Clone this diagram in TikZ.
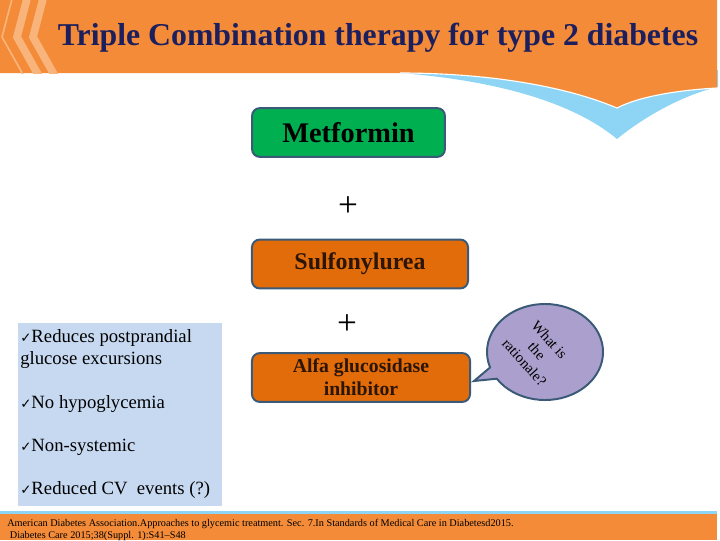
\documentclass[tikz,border=0pt]{standalone}
\usepackage{fontspec}
\setmainfont{Liberation Serif}
\newfontfamily\symfont{DejaVu Sans}
\usetikzlibrary{shapes.callouts}

\definecolor{headorange}{HTML}{F38B38}
\definecolor{chevronorange}{HTML}{F9B47C}
\definecolor{titlenavy}{HTML}{1B1F5E}
\definecolor{swooshblue}{HTML}{8ED5F5}
\definecolor{metgreen}{HTML}{00B050}
\definecolor{drugorange}{HTML}{E36C0A}
\definecolor{boxedge}{HTML}{3A5A78}
\definecolor{drugtext}{HTML}{2B1505}
\definecolor{bubblelilac}{HTML}{ABA0CD}
\definecolor{benefitblue}{HTML}{C6D9F1}

\tikzset{
  drugbox/.style={draw=boxedge, line width=1.4pt, rounded corners=5.5pt,
    minimum height=1.22cm, inner sep=2pt, align=center},
  plussign/.style={font=\fontsize{25}{25}\selectfont},
  benefit/.style={anchor=west, align=left, inner sep=0pt,
    font=\fontsize{13.3}{15.6}\selectfont},
}
\newcommand{\tick}{{\symfont\fontsize{9.5}{9.5}\selectfont ✓}}

\begin{document}
\begin{tikzpicture}[x=0.025cm, y=-0.025cm]
  \useasboundingbox (0,0) rectangle (720,540);
  \clip (0,0) rectangle (720,540);

  % header band
  \fill[swooshblue] (400,73) .. controls (490,80) and (570,100) .. (617,139)
    .. controls (650,112) and (690,93) .. (718,87) -- (718,70) -- cycle;
  \fill[headorange] (0,0) -- (717,0) -- (717,88)
    .. controls (680,90) and (640,96) .. (617,108)
    .. controls (560,84) and (480,73) .. (400,73) -- (0,73) -- cycle;
  \draw[white, line width=0.8pt] (400,73) .. controls (480,73) and (560,84) .. (617,108)
    .. controls (640,96) and (680,90) .. (717,88);
  \begin{scope}
    \clip (0,0) rectangle (120,73);
    \foreach \dx/\w in {0/1.2pt, 15/5.5pt, 31/5.5pt}
      \draw[chevronorange, line width=\w] ({13+\dx},-5) -- ({2+\dx},37) -- ({25+\dx},78);
  \end{scope}
  \node[text=titlenavy, font=\bfseries\fontsize{22.6}{22.6}\selectfont] (title) at (378,38)
    {Triple Combination therapy for type 2 diabetes};

  % drugs
  \node[drugbox, fill=metgreen, minimum width=4.82cm,
    font=\bfseries\fontsize{20.2}{20.2}\selectfont] (metformin) at (348.5,132.5) {Metformin};
  \node[plussign] (plus1) at (348,207) {+};
  \node[drugbox, fill=drugorange, minimum width=5.4cm, text=drugtext,
    font=\bfseries\fontsize{17}{17}\selectfont] (sulfonylurea) at (360,264) {Sulfonylurea};
  \node[plussign] (plus2) at (347,325) {+};
  \node[drugbox, fill=drugorange, minimum width=5.45cm, text=drugtext,
    font=\bfseries\fontsize{14}{16.5}\selectfont] (agi) at (361,377.5)
    {Alfa glucosidase\\inhibitor};

  % speech bubble
  \node[ellipse callout, draw=boxedge, line width=1.4pt, fill=bubblelilac,
    minimum width=2.9cm, minimum height=2.4cm,
    callout absolute pointer={(474,381)}] (bubble) at (545,352) {};
  \node[rotate=-48, align=center, font=\fontsize{10.5}{12}\selectfont] (bubbletext)
    at (537,351) {What is\\the\\rationale?};

  % benefits
  \node[fill=benefitblue, minimum width=5.1cm, minimum height=4.575cm, inner sep=0pt]
    (benefits) at (120,414.5) {};
  \node[benefit] (benefit1) at (20,349) {\tick Reduces postprandial\\glucose excursions};
  \node[benefit] (benefit2) at (20,404) {\tick No hypoglycemia};
  \node[benefit] (benefit3) at (20,447) {\tick Non-systemic};
  \node[benefit] (benefit4) at (20,490) {\tick Reduced CV\ \ events (?)};

  % footer
  \fill[swooshblue] (0,511) rectangle (717,515);
  \fill[headorange] (0,514) rectangle (717,540);
  \node[anchor=north west, align=left, inner sep=0pt,
    font=\fontsize{7.3}{8.3}\selectfont] (reference) at (7,519)
    {American Diabetes  Association.Approaches to glycemic treatment. Sec. 7.In Standards of Medical Care in Diabetesd2015.\\
     \ Diabetes Care 2015;38(Suppl. 1):S41--S48};
\end{tikzpicture}
\end{document}
